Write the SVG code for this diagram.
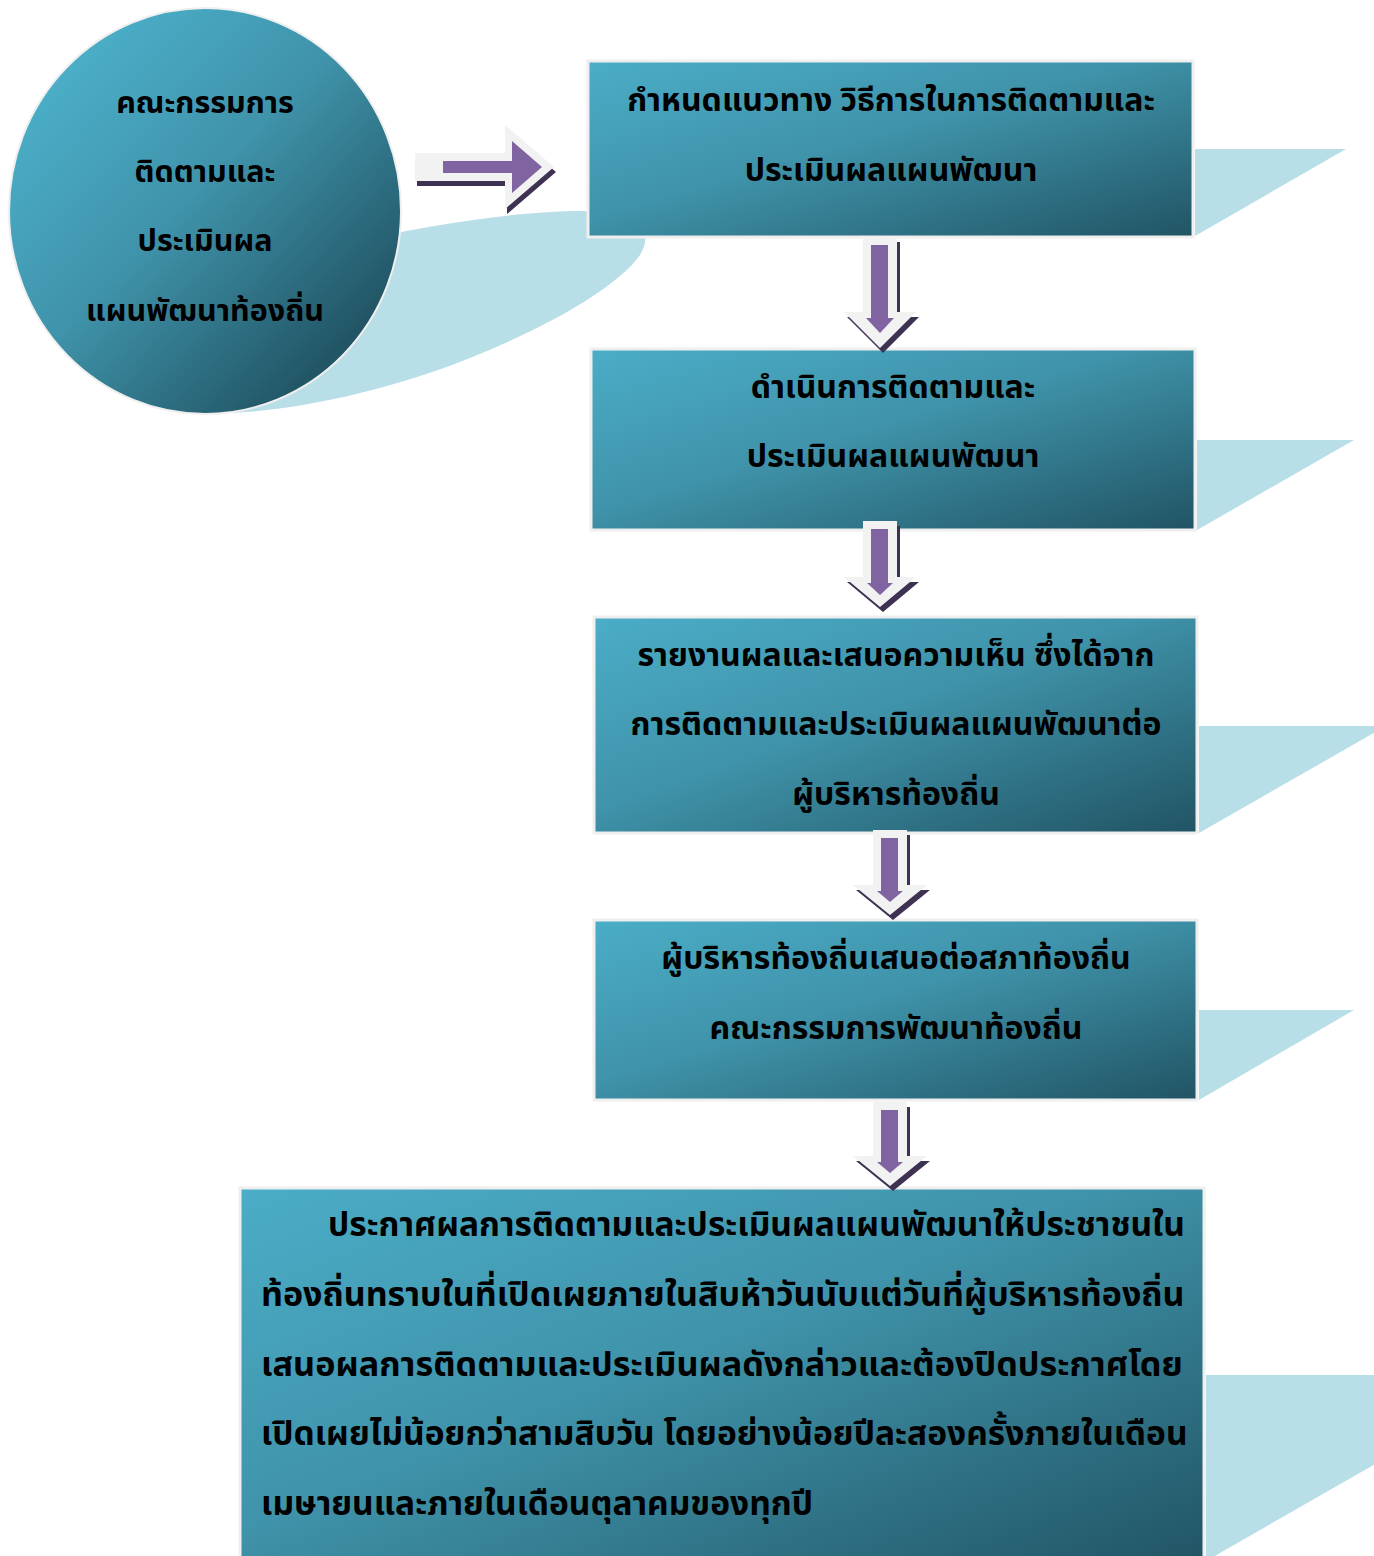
<svg xmlns="http://www.w3.org/2000/svg" width="1374" height="1556" viewBox="0 0 1374 1556">
<defs>
<linearGradient id="g" x1="0" y1="0" x2="1" y2="1">
<stop offset="0" stop-color="#4badc7"/>
<stop offset="0.45" stop-color="#3f93aa"/>
<stop offset="1" stop-color="#215464"/>
</linearGradient>
<linearGradient id="gc" x1="0.15" y1="0.15" x2="0.85" y2="0.85">
<stop offset="0" stop-color="#4badc7"/>
<stop offset="0.45" stop-color="#3f93aa"/>
<stop offset="1" stop-color="#215464"/>
</linearGradient>
<style>
.sh{fill:#b8dee8}
.box{fill:url(#g);stroke:#efefef;stroke-width:3}
.t{font-family:"Noto Sans Thai","Noto Sans","Liberation Sans",sans-serif;font-weight:bold;font-size:32px;fill:#000}
.ct{font-size:30.5px}
.ft{font-size:33.5px}
.c{text-anchor:middle}
.ag{fill:#f2f2f2}
.ap{fill:#8064a2}
.ad{fill:#3f3151}
</style>
</defs>
<g id="shadows">
<path class="sh" d="M 300,260 L 380,236 C 450,222 520,212 575,211 C 640,210 655,230 640,255 C 615,290 540,330 470,358 C 390,390 300,410 230,413 Z"/>
<polygon class="sh" points="1195,149 1346,149 1195,236"/>
<polygon class="sh" points="1197,440 1354,440 1197,530"/>
<polygon class="sh" points="1199,726 1386,726 1199,833"/>
<polygon class="sh" points="1199,1010 1354,1010 1199,1100"/>
<polygon class="sh" points="1206,1375 1531,1375 1206,1561"/>
</g>
<g id="circle">
<ellipse cx="205" cy="211" rx="196" ry="203" fill="url(#gc)" stroke="#efefef" stroke-width="2"/>
<text class="t ct c" x="205" y="113">คณะกรรมการ</text>
<text class="t ct c" x="205" y="182">ติดตามและ</text>
<text class="t ct c" x="205" y="251">ประเมินผล</text>
<text class="t ct c" x="205" y="321">แผนพัฒนาท้องถิ่น</text>
</g>
<g id="box1">
<rect class="box" x="588" y="61" width="605" height="176"/>
<text class="t c" x="891" y="111">กำหนดแนวทาง วิธีการในการติดตามและ</text>
<text class="t c" x="891" y="181">ประเมินผลแผนพัฒนา</text>
</g>
<g id="box2">
<rect class="box" x="591" y="349" width="604" height="181"/>
<text class="t c" x="893" y="398">ดำเนินการติดตามและ</text>
<text class="t c" x="893" y="467">ประเมินผลแผนพัฒนา</text>
</g>
<g id="box3">
<rect class="box" x="594" y="617" width="603" height="216"/>
<text class="t c" x="896" y="666">รายงานผลและเสนอความเห็น ซึ่งได้จาก</text>
<text class="t c" x="896" y="735">การติดตามและประเมินผลแผนพัฒนาต่อ</text>
<text class="t c" x="896" y="805">ผู้บริหารท้องถิ่น</text>
</g>
<g id="box4">
<rect class="box" x="594" y="920" width="603" height="180"/>
<text class="t c" x="896" y="969">ผู้บริหารท้องถิ่นเสนอต่อสภาท้องถิ่น</text>
<text class="t c" x="896" y="1039">คณะกรรมการพัฒนาท้องถิ่น</text>
</g>
<g id="box5">
<rect class="box" x="240" y="1188" width="964" height="380"/>
<text class="t ft" x="328" y="1236">ประกาศผลการติดตามและประเมินผลแผนพัฒนาให้ประชาชนใน</text>
<text class="t ft" x="261" y="1306" style="font-size:34px">ท้องถิ่นทราบในที่เปิดเผยภายในสิบห้าวันนับแต่วันที่ผู้บริหารท้องถิ่น</text>
<text class="t ft" x="261" y="1376" style="font-size:34.2px">เสนอผลการติดตามและประเมินผลดังกล่าวและต้องปิดประกาศโดย</text>
<text class="t ft" x="261" y="1445">เปิดเผยไม่น้อยกว่าสามสิบวัน โดยอย่างน้อยปีละสองครั้งภายในเดือน</text>
<text class="t ft" x="261" y="1515">เมษายนและภายในเดือนตุลาคมของทุกปี</text>
</g>
<g id="connectors">
<g id="arrow-right">
<path class="ad" transform="translate(2,5)" d="M 415,153 H 505 V 125 L 554,167 L 505,209 V 181 H 415 Z"/>
<path class="ag" d="M 415,153 H 505 V 125 L 554,167 L 505,209 V 181 H 415 Z"/>
<path class="ap" d="M 443,161 H 512 V 141 L 542,167 L 512,193 V 173 H 443 Z"/>
</g>
<g id="arrow-1">
<path class="ad" transform="translate(3,5)" d="M 863,237 H 897 V 312 H 916 L 880,348 L 844,312 H 863 Z"/>
<path class="ag" d="M 863,237 H 897 V 312 H 916 L 880,348 L 844,312 H 863 Z"/>
<path class="ap" d="M 871,245 H 888 V 318 H 894 L 880,333 L 866,318 H 871 Z"/>
</g>
<g id="arrow-2">
<path class="ad" transform="translate(3,5)" d="M 863,521 H 897 V 577 H 916 L 880,607 L 844,577 H 863 Z"/>
<path class="ag" d="M 863,521 H 897 V 577 H 916 L 880,607 L 844,577 H 863 Z"/>
<path class="ap" d="M 871,529 H 888 V 583 H 893 L 880,595 L 867,583 H 871 Z"/>
</g>
<g id="arrow-3">
<path class="ad" transform="translate(3,5)" d="M 873,830 H 907 V 885 H 927 L 890,915 L 853,885 H 873 Z"/>
<path class="ag" d="M 873,830 H 907 V 885 H 927 L 890,915 L 853,885 H 873 Z"/>
<path class="ap" d="M 881,838 H 898 V 891 H 903 L 890,902 L 877,891 H 881 Z"/>
</g>
<g id="arrow-4">
<path class="ad" transform="translate(3,5)" d="M 873,1102 H 907 V 1156 H 927 L 890,1186 L 853,1156 H 873 Z"/>
<path class="ag" d="M 873,1102 H 907 V 1156 H 927 L 890,1186 L 853,1156 H 873 Z"/>
<path class="ap" d="M 881,1110 H 898 V 1162 H 903 L 890,1173 L 877,1162 H 881 Z"/>
</g>
</g>
</svg>
